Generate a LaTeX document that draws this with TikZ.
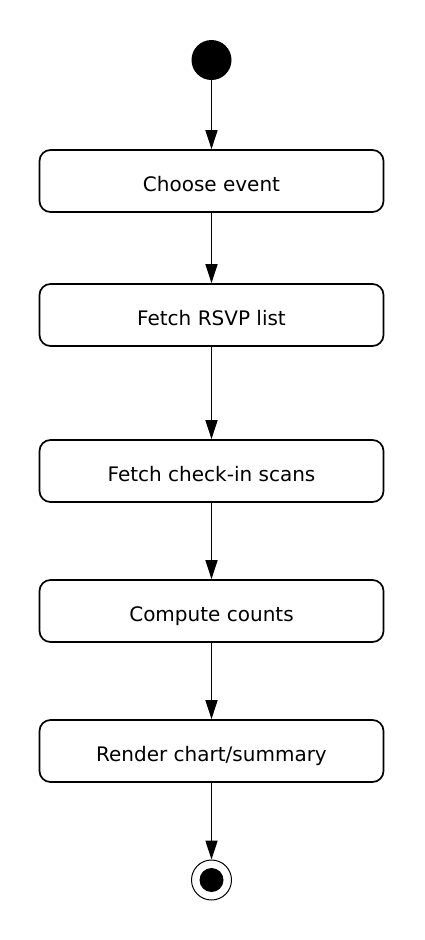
\documentclass[tikz,border=0pt]{standalone}
\usepackage{fontspec}
\setmainfont{DejaVu Sans}
\usetikzlibrary{arrows.meta}
\begin{document}
\begin{tikzpicture}[x=1pt,y=-1pt,
  act/.style={draw=black,line width=1.7pt,rounded corners=11pt,minimum width=344pt,minimum height=62pt,inner sep=0pt,text height=21pt,text depth=0pt,font=\fontsize{20}{24}\selectfont,fill=white},
  flow/.style={line width=1.7pt,-{Triangle[length=19pt,width=12pt]}}]
\useasboundingbox (0,0) rectangle (424,940);
\node[circle,fill=black,minimum size=40pt,inner sep=0pt] (start) at (211.5,60) {};
\node[act] (a1) at (211.5,181) {Choose event};
\node[act] (a2) at (211.5,315) {Fetch RSVP list};
\node[act] (a3) at (211.5,471) {Fetch check-in scans};
\node[act] (a4) at (211.5,611) {Compute counts};
\node[act] (a5) at (211.5,751) {Render chart/summary};
\node[circle,draw=black,line width=1pt,minimum size=40pt,inner sep=0pt] (end) at (211.5,880) {};
\node[circle,fill=black,minimum size=24pt,inner sep=0pt] at (end) {};
\draw[flow] (start) -- (a1);
\draw[flow] (a1) -- (a2);
\draw[flow] (a2) -- (a3);
\draw[flow] (a3) -- (a4);
\draw[flow] (a4) -- (a5);
\draw[flow] (a5) -- (end);
\end{tikzpicture}
\end{document}
